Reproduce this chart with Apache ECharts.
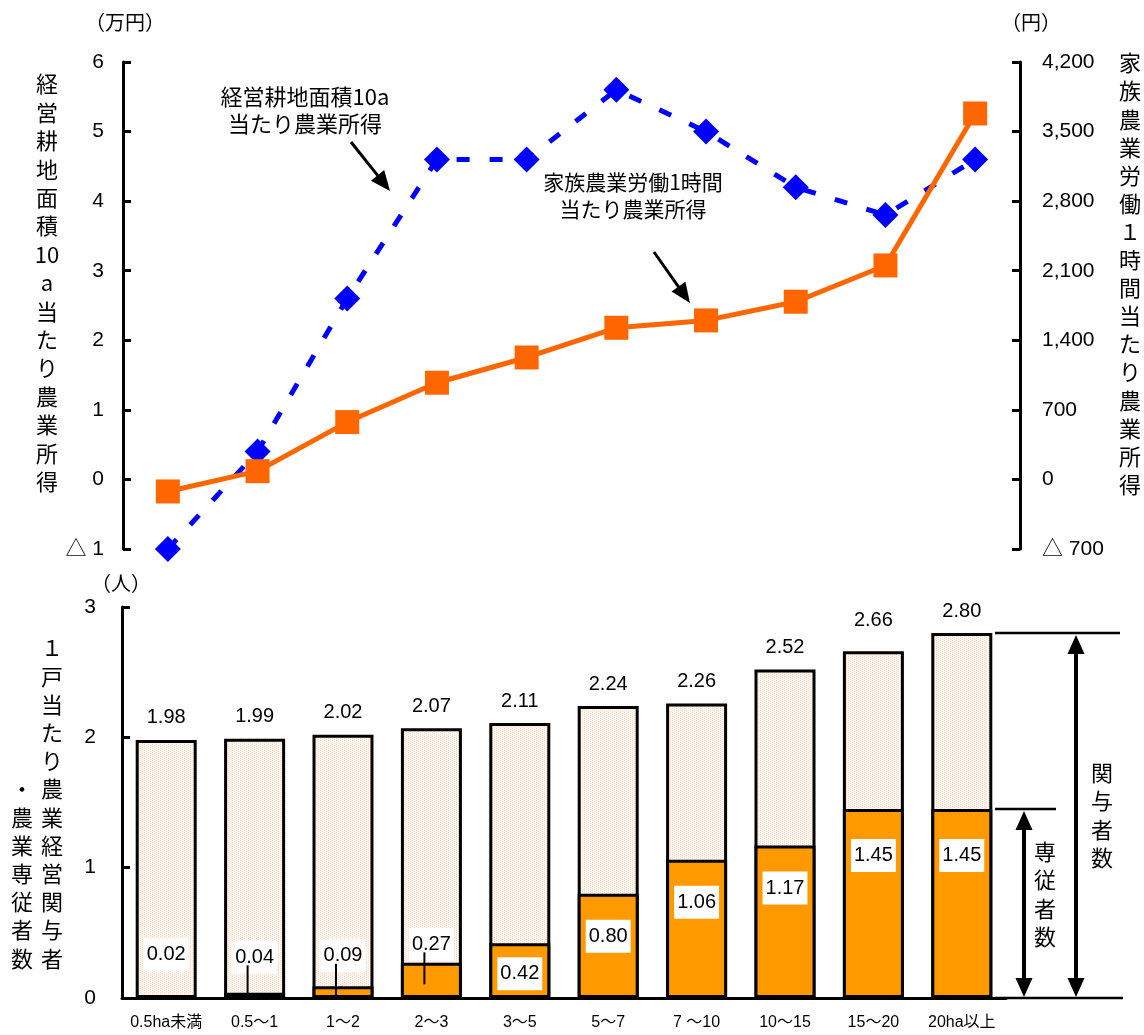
<!DOCTYPE html>
<html>
<head>
<meta charset="utf-8">
<script src="https://cdn.jsdelivr.net/npm/echarts@6/dist/echarts.min.js"></script>
<style>
  html, body { margin: 0; padding: 0; background: #fff; }
  #chart { width: 1144px; height: 1035px; }
</style>
</head>
<body>
<div id="chart"></div>
<script>
// 経営耕地面積規模別
const sizeClasses = ['0.5ha未満', '0.5～1', '1～2', '2～3', '3～5', '5～7', '7 ～10', '10～15', '15～20', '20ha以上'];
// 経営耕地面積10a当たり農業所得（万円）
const incomePer10a = [-1.0, 0.4, 2.6, 4.6, 4.6, 5.6, 5.0, 4.2, 3.8, 4.6];
// 家族農業労働1時間当たり農業所得（円）
const incomePerHour = [-121, 83, 577, 973, 1227, 1526, 1600, 1788, 2153, 3682];
// 1戸当たり農業経営関与者数（人）
const workersTotal = [1.98, 1.99, 2.02, 2.07, 2.11, 2.24, 2.26, 2.52, 2.66, 2.80];
// 1戸当たり農業専従者数（人）
const workersFull = [0.02, 0.04, 0.09, 0.27, 0.42, 0.80, 1.06, 1.17, 1.45, 1.45];

// label placement for the stacked bar values
const totalLabelDist = [12, 12, 12, 12, 12, 12, 12, 12, 21, 12];
const fullLabelPos = ['top', 'top', 'top', 'top', 'insideTop', 'insideTop', 'insideTop', 'insideTop', 'insideTop', 'insideTop'];
const fullLabelDist = [24, 19, 14, 2, 14, 26, 26, 26, 30, 30];
const leaderIdx = [1, 2, 3];
const LABEL_H = 33;

const FONT_NUM = '"Liberation Sans", Arial, "Noto Sans CJK JP", sans-serif';
const FONT_JP = '"Noto Sans CJK JP", "Noto Sans CJK SC", sans-serif';
const BLACK = '#000';

// fine dotted peach fill for the 関与者 bars
function peachPattern() {
  const c = document.createElement('canvas');
  c.width = 4; c.height = 4;
  const g = c.getContext('2d');
  g.fillStyle = '#FFF6F0';
  g.fillRect(0, 0, 4, 4);
  g.fillStyle = '#FADBC8';
  [[0, 0], [0, 2], [2, 1], [2, 3]].forEach(([x, y]) => g.fillRect(x, y, 1, 1));
  return c;
}

const thousands = v => String(v).replace(/\B(?=(\d{3})+(?!\d))/g, ',');
const tri = s => '△ ' + s;

const axisLineStyle = { color: BLACK, width: 3 };

const chart = echarts.init(document.getElementById('chart'), null, { renderer: 'canvas' });

chart.setOption({
  animation: false,
  backgroundColor: '#fff',
  grid: [
    { left: 123, right: 124, top: 62, bottom: 486 },
    { left: 122, right: 138, top: 607, bottom: 37 }
  ],
  xAxis: [
    { type: 'category', gridIndex: 0, data: sizeClasses, boundaryGap: true,
      axisLine: { show: false }, axisTick: { show: false }, axisLabel: { show: false }, splitLine: { show: false } },
    { type: 'category', gridIndex: 1, data: sizeClasses, boundaryGap: true,
      axisLine: { show: true, lineStyle: axisLineStyle }, axisTick: { show: false },
      axisLabel: { color: BLACK, fontSize: 16, margin: 17, interval: 0, fontFamily: FONT_NUM } }
  ],
  yAxis: [
    { type: 'value', gridIndex: 0, position: 'left', min: -1, max: 6, interval: 1,
      axisLine: { show: true, lineStyle: axisLineStyle },
      axisTick: { show: true, inside: true, length: 8, lineStyle: axisLineStyle },
      splitLine: { show: false },
      axisLabel: { color: BLACK, fontSize: 21, margin: 19, fontFamily: FONT_NUM,
        formatter: v => v < 0 ? tri(-v) : String(v) } },
    { type: 'value', gridIndex: 0, position: 'right', min: -700, max: 4200, interval: 700,
      axisLine: { show: true, lineStyle: axisLineStyle },
      axisTick: { show: true, inside: true, length: 8, lineStyle: axisLineStyle },
      splitLine: { show: false },
      axisLabel: { color: BLACK, fontSize: 21, margin: 22, fontFamily: FONT_NUM,
        formatter: v => v < 0 ? tri(thousands(-v)) : thousands(v) } },
    { type: 'value', gridIndex: 1, position: 'left', min: 0, max: 3, interval: 1,
      axisLine: { show: true, lineStyle: axisLineStyle },
      axisTick: { show: true, inside: true, length: 8, lineStyle: axisLineStyle },
      splitLine: { show: false },
      axisLabel: { color: BLACK, fontSize: 21, margin: 26, fontFamily: FONT_NUM } }
  ],
  series: [
    {
      name: '経営耕地面積10a当たり農業所得', type: 'line', xAxisIndex: 0, yAxisIndex: 0,
      data: incomePer10a, symbol: 'diamond', symbolSize: 26, showAllSymbol: true,
      itemStyle: { color: '#0000FF' },
      lineStyle: { color: '#0000FF', width: 5, type: [13, 20], cap: 'butt' },
      z: 3
    },
    {
      name: '家族農業労働1時間当たり農業所得', type: 'line', xAxisIndex: 0, yAxisIndex: 1,
      data: incomePerHour, symbol: 'rect', symbolSize: 24, showAllSymbol: true,
      itemStyle: { color: '#FF6600' },
      lineStyle: { color: '#FF6600', width: 5 },
      z: 4
    },
    {
      name: '農業経営関与者数', type: 'bar', xAxisIndex: 1, yAxisIndex: 2, barWidth: 61,
      data: workersTotal.map((v, i) => ({ value: v, label: { distance: totalLabelDist[i] } })),
      itemStyle: { color: { image: peachPattern(), repeat: 'repeat' }, borderColor: BLACK, borderWidth: 3 },
      label: { show: true, position: 'top', color: BLACK, fontSize: 20, fontFamily: FONT_NUM,
        formatter: p => p.value.toFixed(2) },
      z: 2
    },
    {
      name: '農業専従者数', type: 'bar', xAxisIndex: 1, yAxisIndex: 2, barWidth: 61, barGap: '-100%',
      data: workersFull.map((v, i) => ({ value: v, label: { position: fullLabelPos[i], distance: fullLabelDist[i] } })),
      itemStyle: { color: '#FF9900', borderColor: BLACK, borderWidth: 3 },
      label: { show: true, color: BLACK, fontSize: 20, lineHeight: 21, fontFamily: FONT_NUM,
        backgroundColor: '#fff', padding: [6, 3],
        formatter: p => p.value.toFixed(2) },
      z: 3
    },
    {
      // leader lines joining the small values to their bars
      name: 'leader', type: 'custom', xAxisIndex: 1, yAxisIndex: 2, silent: true, z: 10,
      encode: { x: 0, y: 1 },
      data: leaderIdx.map(i => [i, workersFull[i], fullLabelDist[i]]),
      renderItem: (params, api) => {
        const p = api.coord([api.value(0), api.value(1)]);
        const cy = p[1] - api.value(2) - LABEL_H / 2;
        return {
          type: 'line',
          shape: { x1: p[0] - 7, y1: cy + 8, x2: p[0] - 7, y2: cy + 40 },
          style: { stroke: BLACK, lineWidth: 2 }
        };
      }
    }
  ]
});

// ---- annotations ----
function arrowHead(tx, ty, dx, dy, len, wid) {
  const L = Math.hypot(dx, dy), ux = dx / L, uy = dy / L;
  const bx = tx - ux * len, by = ty - uy * len;
  const px = -uy * wid / 2, py = ux * wid / 2;
  return { type: 'polygon', shape: { points: [[tx, ty], [bx + px, by + py], [bx - px, by - py]] },
    style: { fill: BLACK }, z: 20 };
}
function arrow(x1, y1, x2, y2, len, wid, lw) {
  const L = Math.hypot(x2 - x1, y2 - y1);
  const ex = x2 - (x2 - x1) / L * (len - 2), ey = y2 - (y2 - y1) / L * (len - 2);
  return [
    { type: 'line', shape: { x1, y1, x2: ex, y2: ey }, style: { stroke: BLACK, lineWidth: lw }, z: 20 },
    arrowHead(x2, y2, x2 - x1, y2 - y1, len, wid)
  ];
}
function doubleArrow(x, yTop, yBot, len, wid, lw) {
  return [
    { type: 'line', shape: { x1: x, y1: yTop + len - 2, x2: x, y2: yBot - len + 2 }, style: { stroke: BLACK, lineWidth: lw }, z: 20 },
    arrowHead(x, yTop, 0, -1, len, wid),
    arrowHead(x, yBot, 0, 1, len, wid)
  ];
}
function hline(x1, x2, y) {
  return { type: 'line', shape: { x1, y1: y, x2, y2: y }, style: { stroke: BLACK, lineWidth: 2.5 }, z: 20 };
}
function text(str, x, y, opts) {
  return Object.assign({ type: 'text', x, y, z: 20,
    style: Object.assign({ text: str, fill: BLACK, font: '21px ' + FONT_JP, textAlign: 'center', textVerticalAlign: 'middle' }, opts || {}) });
}
function vtext(chars, x, yFirstCenter, lh) {
  return { type: 'text', x, y: yFirstCenter - lh / 2, z: 20,
    style: { text: chars.join('\n'), fill: BLACK, font: '22px ' + FONT_JP, lineHeight: lh,
      textAlign: 'center', textVerticalAlign: 'top' } };
}

const yTotal = chart.convertToPixel({ yAxisIndex: 2 }, workersTotal[workersTotal.length - 1]);
const yFull = chart.convertToPixel({ yAxisIndex: 2 }, workersFull[workersFull.length - 1]);
const yBase = chart.convertToPixel({ yAxisIndex: 2 }, 0);

const graphics = [
  // units
  text('（万円）', 125, 22, { font: '20px ' + FONT_JP }),
  text('（円）', 1031, 22, { font: '20px ' + FONT_JP }),
  text('（人）', 121, 583, { font: '20px ' + FONT_JP }),
  // axis titles
  vtext(['経', '営', '耕', '地', '面', '積', '10', 'a', '当', 'た', 'り', '農', '業', '所', '得'], 47, 84, 28.4),
  vtext(['家', '族', '農', '業', '労', '働', '１', '時', '間', '当', 'た', 'り', '農', '業', '所', '得'], 1130, 63, 28.1),
  vtext(['１', '戸', '当', 'た', 'り', '農', '業', '経', '営', '関', '与', '者'], 52, 648, 28.2),
  vtext(['・', '農', '業', '専', '従', '者', '数'], 22, 789, 28.2),
  // series call-outs
  text('経営耕地面積10a\n当たり農業所得', 305, 110, { lineHeight: 27, font: '22px ' + FONT_JP }),
  ...arrow(351, 142, 390, 191, 20, 17, 3),
  text('家族農業労働1時間\n当たり農業所得', 633, 196, { lineHeight: 27 }),
  ...arrow(654, 252, 690, 303, 20, 17, 3),
  // bracket arrows for the last bar
  hline(995, 1120, yTotal),
  hline(995, 1056, yFull),
  hline(995, 1123, yBase),
  ...doubleArrow(1076, yTotal + 2, yBase - 1, 19, 17, 4),
  ...doubleArrow(1024, yFull + 2, yBase - 1, 19, 17, 4),
  vtext(['関', '与', '者', '数'], 1102, (yTotal + yBase) / 2 - 43, 28.5),
  vtext(['専', '従', '者', '数'], 1045, (yFull + yBase) / 2 - 52, 28.5)
];

chart.setOption({ graphic: graphics });
</script>
</body>
</html>
